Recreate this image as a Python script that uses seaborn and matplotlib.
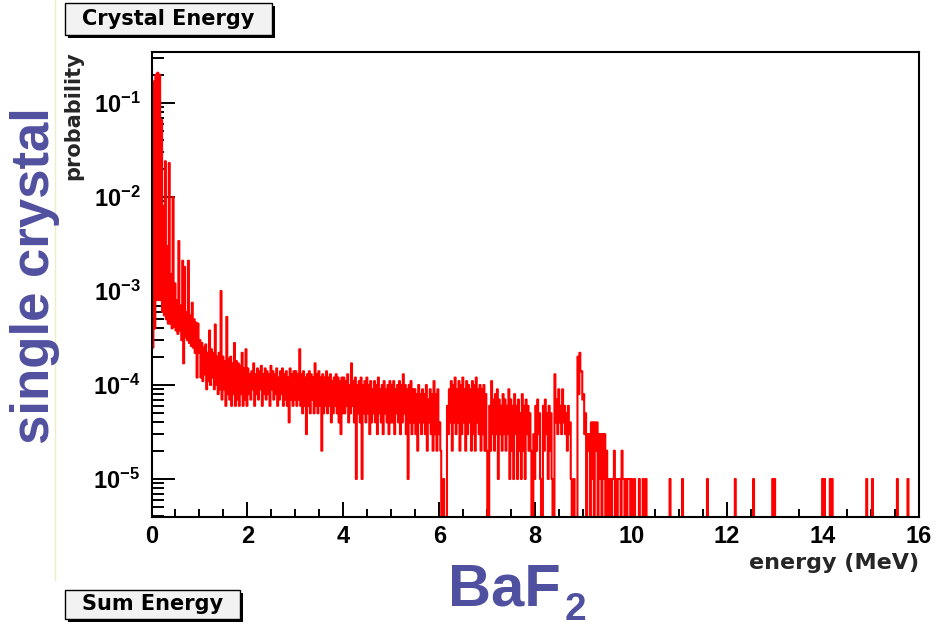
import numpy as np
import pandas as pd
import matplotlib
matplotlib.use("Agg")
import matplotlib.pyplot as plt
import matplotlib.ticker as mticker
from matplotlib.patches import Rectangle
from matplotlib.lines import Line2D
import seaborn as sns

# --- data ---
# the plot is drawn at ~1 px per bin, so every 0.04 MeV slot is read as
# the top and the floor of the red band (counts, 1 count = 1e-5 probability)
SLOT = 0.04
SUB = 0.02
COUNT_UNIT = 1e-5

top_0 = [45, 17000, 20000, 21000, 20000, 6600, 800, 2400, 300, 2300, 150, 1000, 120,
         80, 340, 70, 210, 180, 60, 210, 55, 75, 50, 46, 45]
low_0 = [25, 40, 80, 80, 80, 60, 55, 50, 45, 45, 40, 42, 38, 35, 38, 30, 17, 32, 30,
         28, 26, 25, 22, 12, 22]
top_1 = [30, 28, 25, 27, 22, 38, 24, 22, 44, 20, 22, 100, 20, 18, 53, 19, 20, 17, 28,
         18, 17, 16, 22, 15, 24]
low_1 = [12, 11, 13, 9, 11, 10, 12, 9, 10, 8, 9, 7, 9, 6, 8, 7, 6, 8, 6, 7, 6, 8, 6, 7, 6]
top_2 = [15, 13, 14, 17, 13, 15, 14, 16, 13, 15, 14, 13, 16, 14, 13, 15, 12, 14, 15, 13,
         14, 12, 15, 13, 14]
low_2 = [8, 7, 9, 6, 8, 7, 9, 6, 8, 7, 8, 6, 9, 7, 8, 6, 7, 8, 6, 7, 6, 4, 7, 6, 7]
top_3 = [14, 13, 24, 13, 14, 12, 13, 14, 13, 12, 17, 13, 14, 12, 13, 12, 14, 12, 13, 11,
         12, 13, 12, 11, 12]
low_3 = [6, 7, 6, 5, 6, 3, 6, 5, 7, 5, 6, 5, 6, 2, 5, 6, 5, 6, 4, 5, 6, 5, 4, 3, 5]
top_4 = [12, 11, 13, 10, 17, 11, 12, 10, 11, 12, 10, 11, 12, 10, 11, 9, 11, 10, 12, 9,
         10, 11, 9, 10, 11]
low_4 = [5, 6, 4, 5, 6, 4, 1, 5, 4, 1, 5, 4, 5, 3, 4, 5, 4, 3, 5, 4, 3, 5, 4, 3, 4]
top_5 = [10, 11, 9, 10, 11, 10, 13, 10, 9, 10, 11, 9, 9, 8, 10, 8, 9, 8, 10, 7, 9, 8,
         11, 8, 9]
low_5 = [4, 3, 5, 4, 3, 4, 5, 3, 1, 4, 3, 4, 3, 2, 4, 3, 4, 3, 2, 4, 3, 2, 3, 2, 3]
top_6 = [4, 0, 1, 0, 6, 9, 11, 10, 12, 9, 11, 10, 12, 9, 11, 10, 9, 11, 10, 12, 9, 10,
         9, 10, 8]
low_6 = [2, 0, 0, 0, 3, 4, 2, 4, 3, 4, 2, 3, 4, 2, 3, 4, 2, 3, 2, 4, 3, 2, 3, 2, 2]
top_7 = [0, 6, 11, 7, 8, 9, 7, 6, 8, 7, 6, 9, 7, 6, 8, 6, 7, 5, 8, 6, 7, 6, 5, 0, 3]
low_7 = [0, 2, 3, 2, 3, 1, 3, 2, 3, 2, 3, 1, 2, 1, 3, 1, 2, 1, 2, 1, 3, 2, 2, 0, 1]
top_8 = [6, 7, 5, 0, 6, 7, 5, 6, 5, 0, 13, 7, 9, 6, 9, 6, 5, 6, 4, 0, 1, 0, 20, 22, 14]
low_8 = [2, 3, 1, 0, 2, 3, 1, 2, 1, 0, 4, 3, 4, 3, 4, 3, 2, 3, 1, 0, 0, 0, 8, 14, 7]
top_9 = [8, 5, 3, 3, 4, 4, 4, 4, 3, 3, 3, 3, 2, 1, 1, 1, 2, 1, 1, 1, 2, 1, 1, 1, 1]
low_9 = [3, 0, 2, 0, 1, 0, 2, 0, 1, 0, 1, 0, 0, 0, 0, 1, 0, 0, 1, 0, 1, 0, 0, 1, 0]

# isolated single-count entries above 10 MeV
spike_energy = [10.01, 10.07, 10.17, 10.25, 10.31, 10.81, 11.07, 11.59, 12.17, 12.55,
                12.95, 12.99, 13.99, 14.03, 14.15, 14.19, 14.91, 15.03, 15.55, 15.77]
spike_counts = [1] * len(spike_energy)

x_ticks = [0, 2, 4, 6, 8, 10, 12, 14, 16]
y_exponents = [-5, -4, -3, -2, -1]

# --- build table ---
tops = top_0 + top_1 + top_2 + top_3 + top_4 + top_5 + top_6 + top_7 + top_8 + top_9
lows = low_0 + low_1 + low_2 + low_3 + low_4 + low_5 + low_6 + low_7 + low_8 + low_9
slot_start = SLOT * np.arange(len(tops))
df = pd.DataFrame({
    "energy": np.concatenate([slot_start + SUB / 2, slot_start + 1.5 * SUB, spike_energy]),
    "prob": np.array(tops + lows + spike_counts, dtype=float) * COUNT_UNIT,
})
edges = list(np.linspace(0, 16, 801))

sns.set_theme(style="white")
plt.rcParams["font.family"] = ["Liberation Sans", "DejaVu Sans"]
plt.rcParams["mathtext.fontset"] = "custom"
plt.rcParams["mathtext.bf"] = "Liberation Sans:bold"
plt.rcParams["mathtext.rm"] = "Liberation Sans:bold"
plt.rcParams["text.color"] = "black"
plt.rcParams["path.simplify"] = False

W, H = 947, 629
fig = plt.figure(figsize=(W / 100, H / 100), dpi=100)
left, right, top, bottom = 151.5, 919, 51.7, 516.7
ax = fig.add_axes([left / W, 1 - bottom / H, (right - left) / W, (bottom - top) / H])

sns.histplot(data=df, x="energy", weights="prob", bins=edges, element="step",
             fill=False, color="#ff0000", linewidth=1.5, ax=ax)
ax.set_yscale("log")
ax.set_xlim(0, 16)
ax.set_ylim(3.97e-6, 0.3515)

# ticks, ROOT style
ax.set_xticks(x_ticks)
ax.set_xticklabels([str(t) for t in x_ticks], fontweight="bold")
ax.xaxis.set_minor_locator(mticker.MultipleLocator(0.5))
ax.yaxis.set_major_locator(mticker.FixedLocator([10.0 ** e for e in y_exponents]))
ax.yaxis.set_major_formatter(mticker.FixedFormatter(
    [r"$\mathbf{10^{%d}}$" % e for e in y_exponents]))
ax.yaxis.set_minor_locator(mticker.LogLocator(base=10, subs=range(2, 10), numticks=20))
ax.yaxis.set_minor_formatter(mticker.NullFormatter())

ax.tick_params(axis="x", which="major", direction="in", length=11, width=1.4,
               bottom=True, top=False, labelsize=17, pad=6, color="black", labelcolor="black")
ax.tick_params(axis="x", which="minor", direction="in", length=5.5, width=1.4,
               bottom=True, top=False, color="black")
ax.tick_params(axis="y", which="major", direction="in", length=16.5, width=1.4,
               left=True, right=False, labelsize=17, pad=8, color="black", labelcolor="black")
ax.tick_params(axis="y", which="minor", direction="in", length=8.5, width=1.4,
               left=True, right=False, color="black")
for s in ax.spines.values():
    s.set_color("black")
    s.set_linewidth(1.5)

ax.set_xlabel("energy (MeV)", fontsize=16, fontweight="bold", family="DejaVu Sans", loc="right")
ax.xaxis.set_label_coords(1.0, -0.078)
ax.set_ylabel("probability", fontsize=15, fontweight="bold", family="DejaVu Sans", loc="top")
ax.yaxis.set_label_coords(-0.089, 1.0)


def fx(x):
    return x / W


def fy(y):
    return 1 - y / H


def title_box(x0, y0, x1, y1, label):
    # shadow then pave
    fig.add_artist(Rectangle((fx(x0 + 3), fy(y1 + 3)), fx(x1 - x0), (y1 - y0) / H,
                             transform=fig.transFigure, fc="black", ec="black", lw=0))
    fig.add_artist(Rectangle((fx(x0), fy(y1)), fx(x1 - x0), (y1 - y0) / H,
                             transform=fig.transFigure, fc="#f2f2f2", ec="black", lw=1.0))
    fig.text(fx((x0 + x1) / 2), fy((y0 + y1) / 2), label, ha="center", va="center",
             fontsize=15, fontweight="bold", family="DejaVu Sans", color="black")


title_box(65, 3, 272, 35, "Crystal Energy")
title_box(65, 590, 240, 619, "Sum Energy")

# slide decorations
fig.add_artist(Line2D([fx(54.5), fx(54.5)], [1, fy(580)], transform=fig.transFigure,
                      color="#eeeec4", lw=1))
purple = "#5050a0"
fig.text(fx(35.5), fy(276), "single crystal", rotation=90, ha="center", va="center",
         fontsize=38, fontweight="bold", color=purple)
fig.text(fx(448), fy(605), "BaF", ha="left", va="baseline", fontsize=43,
         fontweight="bold", color=purple)
fig.text(fx(565), fy(620), "2", ha="left", va="baseline", fontsize=28,
         fontweight="bold", color=purple)

fig.savefig("out.png", dpi=100)
